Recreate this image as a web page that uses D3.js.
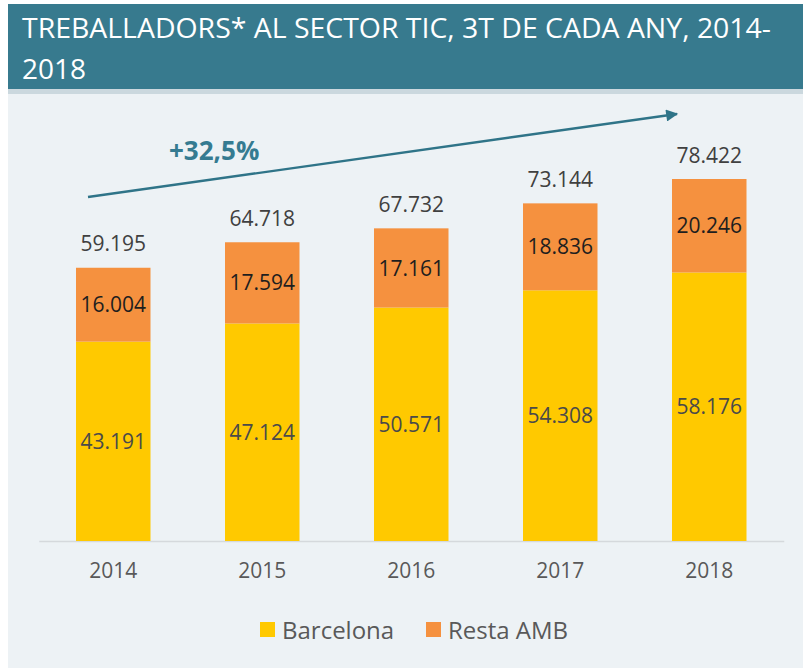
<!DOCTYPE html>
<html>
<head>
<meta charset="utf-8">
<script src="https://cdn.jsdelivr.net/npm/d3@7"></script>
<style>
  body { margin: 0; background: #fff; }
  svg { display: block; font-family: "Open Sans", sans-serif; }
</style>
</head>
<body>
<div id="chart"></div>
<script>
// Data
const years = ["2014", "2015", "2016", "2017", "2018"];
const barcelona = [43191, 47124, 50571, 54308, 58176];
const restaAmb = [16004, 17594, 17161, 18836, 20246];
const totals = [59195, 64718, 67732, 73144, 78422];
const seriesNames = ["Barcelona", "Resta AMB"];
const seriesColors = ["#ffc900", "#f5913f"];

const width = 803, height = 668;
const fmt = v => d3.format(",")(v).replace(/,/g, ".");

const svg = d3.select("#chart").append("svg")
    .attr("width", width)
    .attr("height", height);

// Background + header
svg.append("rect").attr("x", 8).attr("y", 4).attr("width", width - 8).attr("height", height - 4)
    .attr("fill", "#edf2f5");
svg.append("rect").attr("x", 8).attr("y", 86).attr("width", width - 8).attr("height", 8)
    .attr("fill", "#cbd8de");
svg.append("rect").attr("x", 8).attr("y", 4).attr("width", width - 8).attr("height", 85)
    .attr("fill", "#377a8e");

svg.append("text")
    .attr("x", 22).attr("y", 38)
    .attr("fill", "#fff")
    .attr("font-size", 28)
    .attr("textLength", 749)
    .attr("lengthAdjust", "spacingAndGlyphs")
    .text("TREBALLADORS* AL SECTOR TIC, 3T DE CADA ANY, 2014-");
svg.append("text")
    .attr("x", 22).attr("y", 79)
    .attr("fill", "#fff")
    .attr("font-size", 28)
    .attr("textLength", 64)
    .attr("lengthAdjust", "spacingAndGlyphs")
    .text("2018");

// Scales
const x = d3.scaleBand()
    .domain(years)
    .range([38.75, 783.75])
    .paddingInner(0.5)
    .paddingOuter(0.25);

const y = d3.scaleLinear()
    .domain([0, 78422])
    .range([541, 179]);

const rows = years.map((yr, i) => ({ year: yr, Barcelona: barcelona[i], "Resta AMB": restaAmb[i], total: totals[i] }));
const stack = d3.stack().keys(seriesNames)(rows);

// Axis
const axis = svg.append("g")
    .attr("transform", `translate(0, ${y(0)})`)
    .call(d3.axisBottom(x).tickSize(0).tickPadding(22).tickSizeOuter(0));
axis.select(".domain").attr("stroke", "#d5d9dc").attr("stroke-width", 1.5);
axis.selectAll("text")
    .attr("font-size", 21)
    .attr("fill", "#595959")
    .attr("font-family", "Open Sans, sans-serif");

// Bars
const layers = svg.selectAll(".layer")
    .data(stack)
    .enter()
    .append("g")
    .attr("class", "layer")
    .attr("fill", (d, i) => seriesColors[i]);

layers.selectAll("rect")
    .data(d => d)
    .enter()
    .append("rect")
    .attr("x", d => x(d.data.year))
    .attr("width", x.bandwidth())
    .attr("y", d => y(d[1]))
    .attr("height", d => y(d[0]) - y(d[1]));

// Segment labels
layers.selectAll(".seg-label")
    .data((d, i) => d.map(p => ({ p, i })))
    .enter()
    .append("text")
    .attr("class", "seg-label")
    .attr("x", d => x(d.p.data.year) + x.bandwidth() / 2)
    .attr("y", d => (y(d.p[0]) + y(d.p[1])) / 2)
    .attr("dy", "0.36em")
    .attr("text-anchor", "middle")
    .attr("font-size", 21)
    .attr("fill", d => d.i === 0 ? "#4a4a4a" : "#1e1e1e")
    .text(d => fmt(d.p[1] - d.p[0]));

// Totals
svg.selectAll(".total")
    .data(rows)
    .enter()
    .append("text")
    .attr("class", "total")
    .attr("x", d => x(d.year) + x.bandwidth() / 2)
    .attr("y", d => y(d.total) - 24)
    .attr("dy", "0.36em")
    .attr("text-anchor", "middle")
    .attr("font-size", 21)
    .attr("fill", "#404040")
    .text(d => fmt(d.total));

// Growth arrow
svg.append("defs").append("marker")
    .attr("id", "arrow")
    .attr("viewBox", "0 0 10 10")
    .attr("refX", 9).attr("refY", 5)
    .attr("markerWidth", 5.5).attr("markerHeight", 5)
    .attr("orient", "auto")
    .append("path")
    .attr("d", "M0,0 L10,5 L0,10 z")
    .attr("fill", "#2f7488");

svg.append("line")
    .attr("x1", 88).attr("y1", 197)
    .attr("x2", 677).attr("y2", 114)
    .attr("stroke", "#2f7488")
    .attr("stroke-width", 2.4)
    .attr("marker-end", "url(#arrow)");

svg.append("text")
    .attr("x", 169).attr("y", 160)
    .attr("font-size", 26)
    .attr("font-weight", "bold")
    .attr("fill", "#357b91")
    .text("+32,5%");

// Legend
const legend = svg.append("g").attr("transform", "translate(0, 630)");
const legendX = [260, 426];
seriesNames.forEach((name, i) => {
    legend.append("rect")
        .attr("x", legendX[i]).attr("y", -8)
        .attr("width", 15).attr("height", 15)
        .attr("fill", seriesColors[i]);
    legend.append("text")
        .attr("x", legendX[i] + 22).attr("y", 0)
        .attr("dy", "0.36em")
        .attr("font-size", 24)
        .attr("fill", "#595959")
        .text(name);
});
</script>
</body>
</html>
